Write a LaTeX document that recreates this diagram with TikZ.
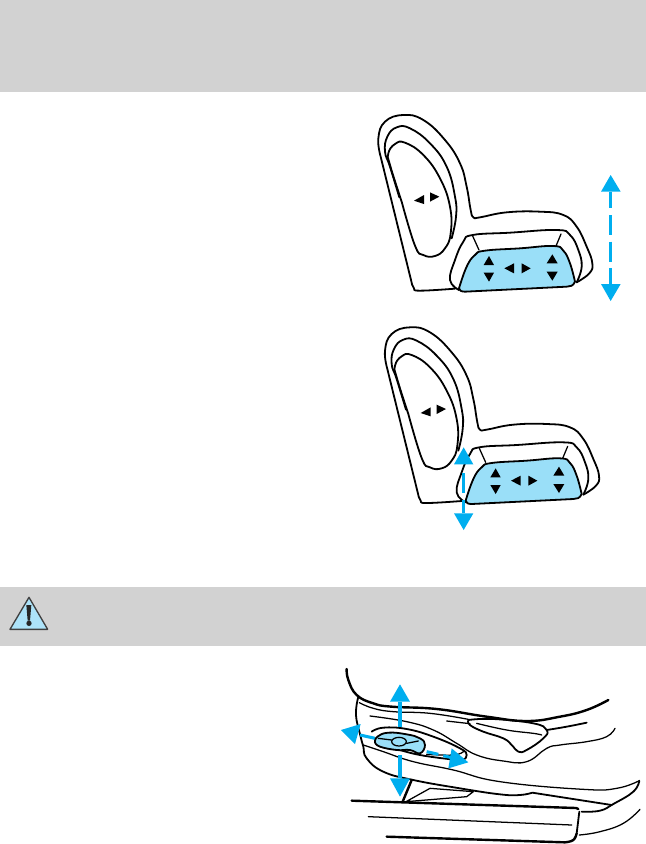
\documentclass[tikz,border=0pt]{standalone}
\definecolor{band}{HTML}{D2D2D2}
\definecolor{arrowblue}{HTML}{00AEEF}
\definecolor{padblue}{HTML}{9ADFF8}
\definecolor{warnblue}{HTML}{ADE3F9}
\tikzset{
  ln/.style={black,line width=1.35pt,line cap=round,line join=round},
  thin ln/.style={black,line width=.95pt,line cap=round,line join=round},
  thick ln/.style={black,line width=1.8pt,line cap=round,line join=round},
  shaft/.style={arrowblue,line width=2.3pt},
  head/.style={fill=arrowblue,draw=none},
  tri/.style={fill=black,draw=none},
  sm/.style={smooth,tension=.75}
}
\newcommand{\seatdrawing}{%
  \draw[ln] plot[sm] coordinates {(285,566) (180,572) (162,565) (155,548)} -- (62,170)
    plot[sm] coordinates {(62,170) (55,115) (75,65) (130,45) (190,60) (255,120) (300,190) (320,260) (332,330) (340,352) (360,352) (440,337) (540,335) (610,345) (650,380) (680,440) (697,490) (688,520) (650,547)};
  \draw[ln] plot[sm] coordinates {(118,292) (90,200) (75,155) (82,110) (110,82) (150,85) (210,130) (260,200) (285,290) (288,350) (275,415)};
  \draw[ln] plot[sm] coordinates {(125,305) (165,437) (190,465) (225,468) (255,445) (272,400) (270,320) (240,235) (190,165) (135,128) (105,132) (85,160) (90,195) (125,305)};
  \draw[ln] plot[sm] coordinates {(297,570) (270,540) (285,480) (310,425) (338,405) (450,398) (590,390) (630,405) (655,450) (665,500) (650,547)};
  \draw[thin ln] (338,408) -- (357,450) (603,402) -- (588,438);
  \filldraw[ln,fill=padblue] plot[sm] coordinates {(297,565) (320,500) (345,465) (375,452) (480,445) (580,438) (610,452) (630,490) (645,545)}
    .. controls (640,558) and (630,560) .. (620,560) -- (315,575) .. controls (305,575) and (297,572) .. (297,565) -- cycle;
  \fill[tri] (162,302) -- (192,285) -- (192,312) -- cycle;
  \fill[tri] (238,290) -- (210,277) -- (210,305) -- cycle;
  \fill[tri] (387,468) -- (402,495) -- (371,495) -- cycle;
  \fill[tri] (387,545) -- (402,518) -- (371,518) -- cycle;
  \fill[tri] (433,505) -- (462,490) -- (462,520) -- cycle;
  \fill[tri] (512,505) -- (485,490) -- (485,520) -- cycle;
  \fill[tri] (577,463) -- (593,490) -- (560,490) -- cycle;
  \fill[tri] (577,542) -- (593,515) -- (560,515) -- cycle;
}
\begin{document}
\begin{tikzpicture}[x=.25pt,y=-.25pt]
\useasboundingbox (0,0) rectangle (1938,2532);
\fill[white] (0,0) rectangle (1938,2532);
\fill[band] (0,0) rectangle (1938,276);
\fill[band] (0,1761) rectangle (1938,1938);
% warning sign
\begin{scope}[shift={(0,1740)}]
  \filldraw[fill=warnblue,draw=black!75,line width=1pt,line join=round] (87,52) -- (143,148) -- (30,148) -- cycle;
  \fill[black!85] (79,75) -- (94,75) -- (90,122) -- (83,122) -- cycle;
  \fill[black!85] (87,130) circle (8);
\end{scope}
% first seat
\begin{scope}[shift={(1080,300)}]
  \seatdrawing
  \fill[head] (752,225) -- (782,275) -- (723,275) -- cycle;
  \fill[head] (752,603) -- (782,552) -- (723,552) -- cycle;
  \draw[shaft] (752,275) -- (752,325) (752,345) -- (752,405) (752,425) -- (752,485) (752,505) -- (752,552);
\end{scope}
% second seat
\begin{scope}[shift={(1100,937)}]
  \seatdrawing
\end{scope}
\begin{scope}[shift={(1080,960)}]
  \fill[head] (311,382) -- (340,433) -- (282,433) -- cycle;
  \fill[head] (311,630) -- (340,580) -- (282,580) -- cycle;
  \draw[shaft] (311,460) -- (311,518) (311,540) -- (311,580);
\end{scope}
% seat side control
\begin{scope}[shift={(960,1965)}]
  \draw[thick ln] plot[sm] coordinates {(80,42) (85,75) (110,120) (160,145) (215,155) (350,162) (500,185) (620,198) (720,185) (800,165) (865,135)};
  \draw[ln] plot[sm] coordinates {(115,125) (108,180) (122,245) (130,275) (140,310) (190,350) (280,375) (420,400) (540,418) (600,420) (637,413)} -- (875,450);
  \draw[thin ln] plot[sm] coordinates {(118,143) (160,160) (220,170) (330,175) (445,193)};
  \draw[thin ln] plot[sm] coordinates {(150,183) (260,200) (340,225) (410,265) (470,300) (550,318) (620,320) (680,280) (720,270) (800,260) (860,245) (885,220)};
  \draw[thin ln] (380,198) -- (450,206);
  \draw[ln] plot[sm] coordinates {(445,195) (520,192) (640,205) (680,225) (670,250) (620,285) (595,290) (575,270) (550,250) (490,230) (450,210) (445,195)};
  \draw[thin ln] plot[sm] coordinates {(470,205) (560,225) (640,235) (665,240)};
  \draw[ln] plot[sm] coordinates {(680,225) (740,215) (800,203)};
  \draw[ln] plot[sm] coordinates {(155,230) (190,218) (260,222) (340,245) (420,280) (440,300) (425,315) (385,312) (300,300) (240,285)};
  \draw[thin ln] plot[sm] coordinates {(320,298) (400,300) (430,290)};
  \draw[thin ln] plot[sm] coordinates {(130,270) (190,290) (280,320) (400,345) (540,380) (790,403) (890,400) (958,377)};
  \draw[ln] plot[sm] coordinates {(785,470) (840,467) (880,447) (940,410) (958,377)};
  \draw[thick ln] (275,375) -- (248,440);
  \draw[thin ln] (258,440) -- (330,400) -- (460,410) -- (440,425) -- cycle;
  \draw[thick ln] (95,437) -- (768,459) -- (775,462);
  \draw[ln] (778,470) -- (770,535);
  \draw[thick ln] plot[sm] coordinates {(770,535) (760,555) (735,562)} -- (200,545);
  \draw[thin ln] (145,485) -- (755,510);
  \draw[thin ln] plot[sm] coordinates {(778,540) (840,530) (910,505) (960,463)};
  % arrows behind knob
  \draw[shaft] (240,140) -- (240,215) (240,300) -- (240,370);
  \draw[shaft] (120,240) -- (165,250);
  \draw[shaft] (320,290) -- (355,298) (370,302) -- (395,308);
  \fill[head] (240,88) -- (270,140) -- (210,140) -- cycle;
  \fill[head] (240,425) -- (270,370) -- (210,370) -- cycle;
  \fill[head] (63,225) -- (122,207) -- (105,267) -- cycle;
  \fill[head] (445,322) -- (395,280) -- (385,340) -- cycle;
  % knob
  \filldraw[ln,fill=padblue] plot[sm] coordinates {(165,262) (172,245) (205,233) (260,238) (300,250) (315,270) (300,295) (270,285) (230,285) (180,275) (165,262)};
  \draw[thin ln] (237,260) ellipse (22 and 13);
  \draw[thin ln] (175,250) -- (215,255) (260,265) -- (295,258);
\end{scope}
\end{tikzpicture}
\end{document}
